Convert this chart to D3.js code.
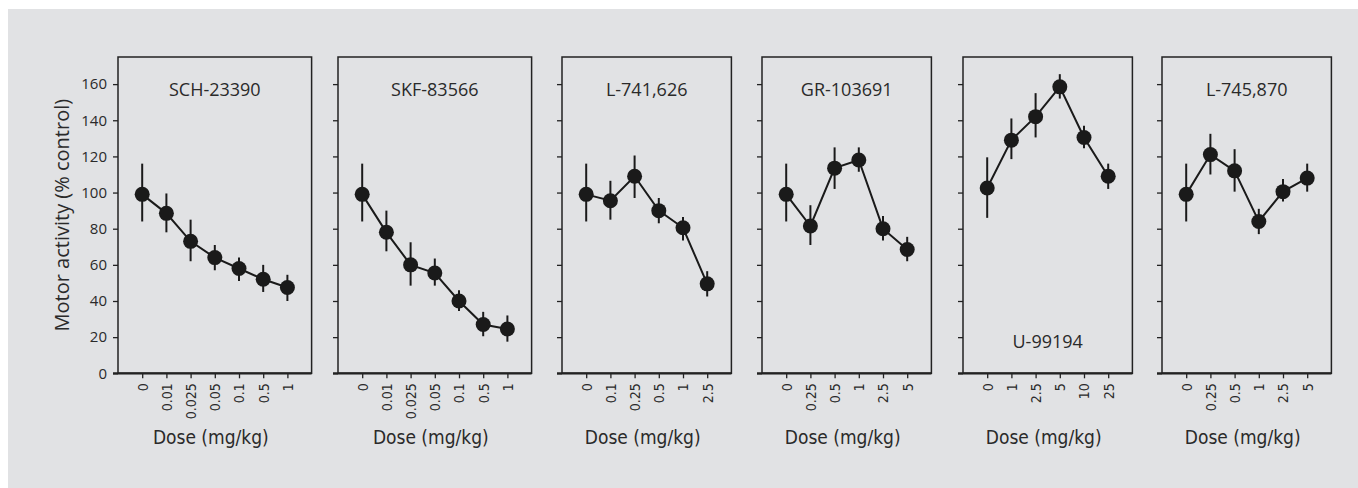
<!DOCTYPE html>
<html>
<head>
  <meta charset="utf-8">
  <title>Motor activity</title>
  <script src="https://cdn.jsdelivr.net/npm/d3@7"></script>
  <style>
    body { margin: 0; background: #fff; }
    svg text { fill: #2a2a2a; }
    .tick line { stroke: #222; stroke-width: 1.3; }
    .axis path.domain { display: none; }
    .ytl text { font-family: "Open Sans", "Noto Sans", sans-serif; font-size: 15px; }
    .xtl text { font-family: "DejaVu Sans", sans-serif; font-stretch: condensed; font-size: 14px; }
    .title { font-family: "Open Sans", "Noto Sans", sans-serif; font-size: 18px; }
    .xlabel { font-family: "DejaVu Sans", sans-serif; font-stretch: condensed; font-size: 19px; }
    .ylabel { font-family: "Open Sans", "Noto Sans", sans-serif; font-size: 20px; }
  </style>
</head>
<body>
<svg width="1358" height="488"></svg>
<script>

var drugs = ["SCH-23390", "SKF-83566", "L-741,626", "GR-103691", "U-99194", "L-745,870"];

var doses = [
  ["0", "0.01", "0.025", "0.05", "0.1", "0.5", "1"],
  ["0", "0.01", "0.025", "0.05", "0.1", "0.5", "1"],
  ["0", "0.1", "0.25", "0.5", "1", "2.5"],
  ["0", "0.25", "0.5", "1", "2.5", "5"],
  ["0", "1", "2.5", "5", "10", "25"],
  ["0", "0.25", "0.5", "1", "2.5", "5"]
];

var means = [
  [99, 88.5, 73, 64, 58, 52, 47.5],
  [99, 78, 60, 55.5, 40, 27, 24.5],
  [99, 95.5, 109, 90, 80.5, 49.5],
  [99, 81.5, 113.5, 118, 80, 68.5],
  [102.5, 129, 142, 158.5, 130.5, 109],
  [99, 121, 112, 84, 100.5, 108]
];

var errHigh = [
  [116, 99.5, 85, 71, 64, 60, 54.5],
  [116, 90, 72.5, 63.5, 46, 34, 32],
  [116, 106.5, 120.5, 97, 86.5, 56.5],
  [116, 93, 125, 125, 87, 75.5],
  [119.5, 141, 155, 165.5, 137, 116],
  [116, 132.5, 124, 91, 107.5, 116]
];

var errLow = [
  [84, 78, 62, 57, 51, 45, 40],
  [84, 67.5, 48.5, 48.5, 34.5, 20.5, 17.5],
  [84, 85, 97, 83, 73.5, 42.5],
  [84, 71, 102, 111.5, 73.5, 62],
  [86, 118.5, 130.5, 152, 124.5, 102],
  [84, 110, 100.5, 77, 95, 100.5]
];

var yTicks = [0, 20, 40, 60, 80, 100, 120, 140, 160];
var titleBottom = [false, false, false, false, true, false];

// layout
var panelX = [118, 338, 562, 762, 963, 1162],
    plotTop = 57, plotBottom = 373.3,
    step = 24.2;

var svg = d3.select("svg");

svg.append("rect")
    .attr("x", 8).attr("y", 9)
    .attr("width", 1350).attr("height", 479)
    .attr("fill", "#e1e2e4");

var y = d3.scaleLinear().domain([0, 175]).range([plotBottom, plotTop]);

drugs.forEach(function(name, i) {
  var w = step * (doses[i].length + 1);
  var x = d3.scalePoint().domain(doses[i]).range([0, w]).padding(1);
  var g = svg.append("g").attr("transform", "translate(" + panelX[i] + ",0)");

  g.append("rect")
      .attr("x", 0).attr("y", plotTop)
      .attr("width", w).attr("height", plotBottom - plotTop)
      .attr("fill", "none").attr("stroke", "#222").attr("stroke-width", 1.5);

  g.append("g")
      .attr("class", "axis ytl")
      .call(d3.axisLeft(y).tickValues(yTicks).tickSize(5).tickPadding(6)
        .tickFormat(i == 0 ? d3.format("d") : ""));

  var xa = g.append("g")
      .attr("class", "axis xtl")
      .attr("transform", "translate(0," + plotBottom + ")")
      .call(d3.axisBottom(x).tickSize(5).tickSizeOuter(0));
  xa.selectAll("text")
      .attr("transform", "rotate(-90)")
      .attr("text-anchor", "end")
      .attr("x", -10).attr("y", 0)
      .attr("dy", "0.35em");

  g.append("line")
      .attr("x1", -5).attr("x2", w)
      .attr("y1", plotBottom).attr("y2", plotBottom)
      .attr("stroke", "#222").attr("stroke-width", 2.2);

  var pts = doses[i].map(function(d, j) {
    return {dose: d, m: means[i][j], hi: errHigh[i][j], lo: errLow[i][j]};
  });

  g.selectAll(".err")
    .data(pts)
    .enter().append("line")
      .attr("x1", function(d) { return x(d.dose); })
      .attr("x2", function(d) { return x(d.dose); })
      .attr("y1", function(d) { return y(d.hi); })
      .attr("y2", function(d) { return y(d.lo); })
      .attr("stroke", "#1a1a1a").attr("stroke-width", 2);

  g.append("path")
      .datum(pts)
      .attr("fill", "none").attr("stroke", "#1a1a1a").attr("stroke-width", 2)
      .attr("d", d3.line()
        .x(function(d) { return x(d.dose); })
        .y(function(d) { return y(d.m); }));

  g.selectAll(".dot")
    .data(pts)
    .enter().append("circle")
      .attr("cx", function(d) { return x(d.dose); })
      .attr("cy", function(d) { return y(d.m); })
      .attr("r", 7.5)
      .attr("fill", "#1a1a1a");

  g.append("text")
      .attr("class", "title")
      .attr("x", w / 2)
      .attr("y", titleBottom[i] ? y(17.5) : y(157))
      .attr("dy", "0.35em")
      .attr("text-anchor", "middle")
      .text(name);

  g.append("text")
      .attr("class", "xlabel")
      .attr("x", w / 2 - 4)
      .attr("y", 437)
      .attr("dy", "0.35em")
      .attr("text-anchor", "middle")
      .text("Dose (mg/kg)");
});

svg.append("text")
    .attr("class", "ylabel")
    .attr("transform", "translate(62," + ((plotTop + plotBottom) / 2) + ") rotate(-90)")
    .attr("dy", "0.35em")
    .attr("text-anchor", "middle")
    .text("Motor activity (% control)");

</script>
</body>
</html>
